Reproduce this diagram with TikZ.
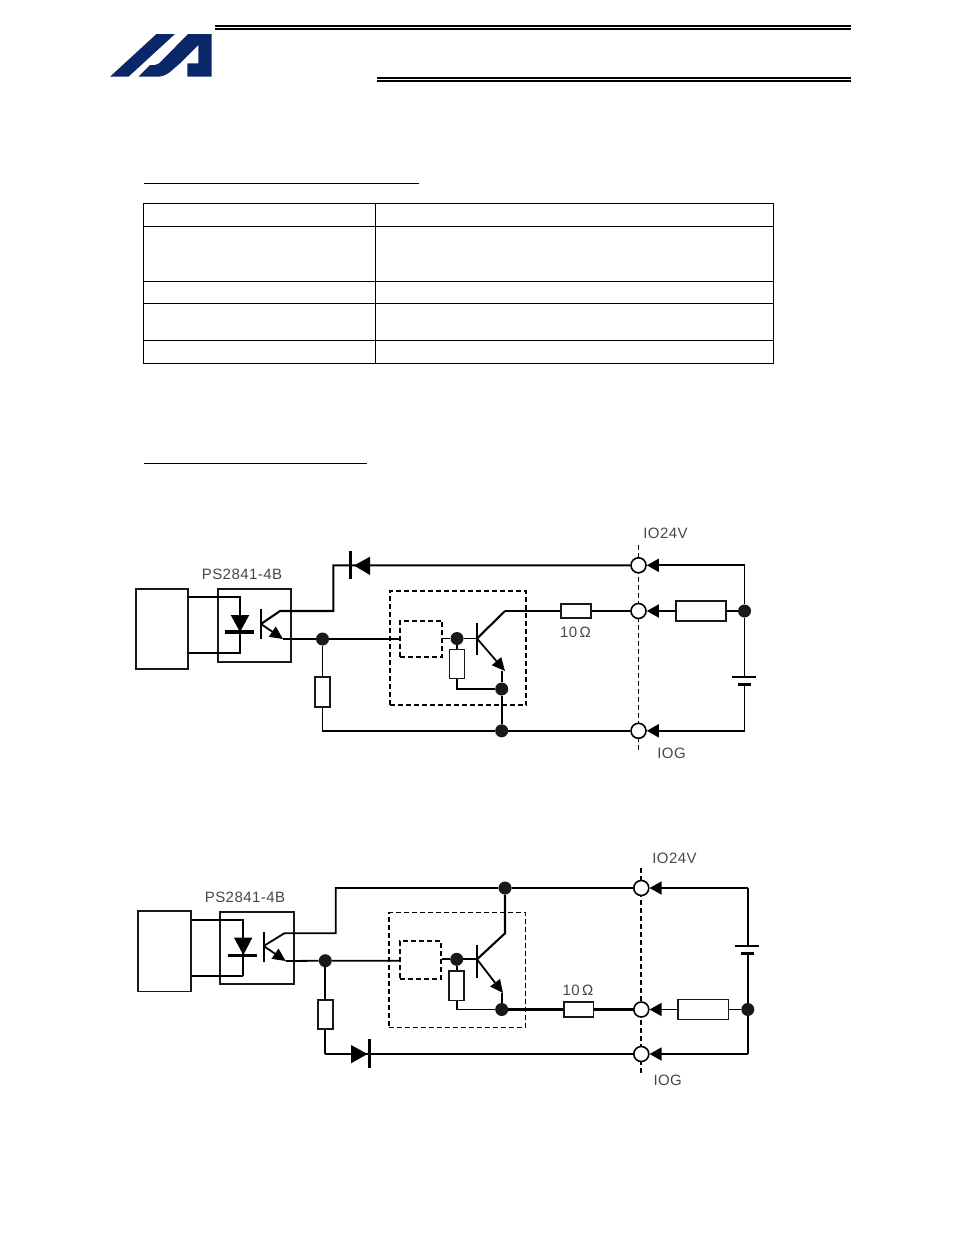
\documentclass[tikz,border=0pt]{standalone}
\usepackage{fontspec}
\setmainfont{Liberation Sans}
\usetikzlibrary{arrows.meta}

\begin{document}
\begin{tikzpicture}[
    x=1pt, y=-1pt,
    wire/.style={line width=1.8pt, black},
    heavy/.style={line width=2.1pt, black},
    boxed/.style={draw=black!90, line width=1.7pt, rectangle, inner sep=0pt},
    dashbox/.style={draw=black, line width=1.7pt, dash pattern=on 5pt off 3pt, rectangle, inner sep=0pt},
    res/.style={draw=black!90, line width=1.7pt, fill=white, rectangle, inner sep=0pt},
    junc/.style={circle, fill=black!90, inner sep=0pt, minimum size=13pt},
    term/.style={circle, draw=black, line width=1.6pt, fill=white, inner sep=0pt, minimum size=15pt},
    plate/.style={line width=2.8pt, black},
    lab/.style={text=black!72, font=\fontsize{15}{17}\selectfont\addfontfeatures{LetterSpace=3}, inner sep=0pt},
    feed/.style={wire, -{Triangle[length=12pt,width=13pt]}},
    emit/.style={wire, -{Triangle[length=13pt,width=12pt]}},
    rule/.style={line width=1pt, black}
]
    \useasboundingbox (0,0) rectangle (954,1235);

    % header
    \fill [fill={rgb,255:red,10;green,40;blue,105}] (110,76.7) -- (156.5,34) -- (175,34) -- (128.5,76.7) -- cycle;
    \fill [fill={rgb,255:red,10;green,40;blue,105}] (138.3,76.7) -- (150,65) -- (155,65) .. controls (158,65) and (160,62.5) .. (162,60.5) -- (188,34) -- (211.5,34) -- (211.5,76.7) -- (187.3,76.7) -- (187.3,63.3) -- (198.3,63.3) -- (198.3,45) -- (180,63.3) -- (170,72) .. controls (166,75) and (162,76.7) .. (158,76.7) -- cycle;
    \draw [line width=2.3pt] (215,25.8) -- (851,25.8);
    \draw [line width=1.7pt] (215,29.2) -- (851,29.2);
    \draw [line width=2pt] (377,78) -- (851,78);
    \draw [line width=1.7pt] (377,80.9) -- (851,80.9);

    % headings and table
    \draw [rule] (144,183.3) -- (419,183.3);
    \draw [rule] (144,463.5) -- (367,463.5);
    \draw [rule] (143.5,203.3) rectangle (773.5,363.3);
    \draw [rule] (375.7,203.3) -- (375.7,363.3);
    \foreach \rowy in {226.3,281.7,303.3,340.3}
        \draw [rule] (143.5,\rowy) -- (773.5,\rowy);

    % first circuit
    \node [boxed, minimum width=52.5pt, minimum height=80pt] (hostA) at (162,629) {};
    \node [boxed, minimum width=73pt, minimum height=72.5pt] (optoA) at (254.2,625.5) {};
    \node [lab] (partA) at (242,574.5) {PS2841-4B};
    \node [dashbox, minimum width=136.5pt, minimum height=114pt] (ampA) at (458,648) {};
    \node [dashbox, minimum width=42pt, minimum height=36.5pt] (ctlA) at (421,639) {};
    \draw [dashbox] (638.5,545) -- (638.5,750);

    \node [term] (t1A) at (638.5,565.3) {};
    \node [term] (t2A) at (638.5,611) {};
    \node [term] (t3A) at (638.5,730.8) {};
    \node [lab] (vccA) at (665.5,533.5) {IO24V};
    \node [lab] (gndA) at (671.5,753) {IOG};

    \node [junc] (j1A) at (322.5,639) {};
    \node [junc] (j2A) at (457,638.5) {};
    \node [junc] (j3A) at (501.7,689) {};
    \node [junc] (j4A) at (501.7,730.8) {};
    \node [junc] (j5A) at (744.5,611) {};

    \node [res, minimum width=15pt, minimum height=30pt] (r1A) at (322.5,691.7) {};
    \node [res, minimum width=15pt, minimum height=29pt] (r2A) at (457,664) {};
    \node [res, minimum width=30pt, minimum height=14pt] (r3A) at (576,611) {};
    \node [res, minimum width=50pt, minimum height=19.5pt] (r4A) at (700.7,611) {};
    \node [lab] (ohmA) at (575.5,632.7) {10\,Ω};

    \coordinate (ledtA) at (240,597.3);
    \coordinate (ledbA) at (240,653.3);
    \coordinate (colA) at (280,611);
    \coordinate (bendA) at (333.3,565.3);
    \coordinate (baseA) at (261,624);
    \coordinate (emA) at (283,639);
    \coordinate (qbA) at (477,638.5);
    \coordinate (qcA) at (505,611);
    \coordinate (qeA) at (505,671);
    \coordinate (qfA) at (501.7,671);
    \coordinate (c1A) at (744.5,565.3);
    \coordinate (c3A) at (744.5,730.8);
    \coordinate (plusA) at (744.5,676.7);
    \coordinate (minusA) at (744.5,684.3);

    % first circuit: opto-coupler and diode
    \draw [heavy] (hostA.east |- ledtA) -- (ledtA) -- (ledbA) -- (hostA.east |- ledbA);
    \fill (230.7,615) -- (249.3,615) -- (240,632) -- cycle;
    \draw [plate, line width=3.4pt] (225,632) -- (254.3,632);
    \draw [plate, line width=2.2pt] (261,609) -- (261,639.3);
    \draw [heavy] (baseA) -- (colA) -| (bendA) -- (t1A);
    \fill (370,556.7) -- (354,565.5) -- (370,575) -- cycle;
    \draw [plate] (350.3,550.7) -- (350.3,579.3);
    \draw [emit] (baseA) -- (emA);
    \draw [wire] (emA) -- (j1A) -- (ctlA.west |- j1A);
    \draw [wire] (j1A) -- (r1A) -- (r1A |- j4A) -- (j4A) -- (t3A);
    % first circuit: transistor stage
    \draw [wire] (ctlA.east |- j2A) -- (j2A) -- (qbA);
    \draw [plate, line width=2.2pt] (477,622.7) -- (477,655);
    \draw [heavy] (qbA) -- (qcA);
    \draw [wire] (qcA) -- (r3A) -- (t2A);
    \draw [emit] (qbA) -- (qeA);
    \draw [wire] (j2A) -- (r2A) -- (r2A |- j3A) -- (j3A);
    \draw [wire] (qfA) -- (j3A);
    \draw [heavy] (j3A) -- (j4A);
    % first circuit: supply side
    \draw [feed] (c1A) -- (t1A);
    \draw [feed] (r4A) -- (t2A);
    \draw [feed] (c3A) -- (t3A);
    \draw [wire] (j5A) -- (r4A);
    \draw [wire] (c1A) -- (j5A) -- (plusA);
    \draw [wire] (minusA) -- (c3A);
    \draw [wire] (731.7,676.7) -- (755.7,676.7);
    \draw [plate] (738.3,684.3) -- (750.7,684.3);

    % second circuit
    \node [boxed, minimum width=53pt, minimum height=80.5pt] (hostB) at (164.3,951.3) {};
    \node [boxed, minimum width=73.5pt, minimum height=72pt] (optoB) at (257,947.7) {};
    \node [lab] (partB) at (245,897.7) {PS2841-4B};
    \node [dashbox, minimum width=136.5pt, minimum height=115pt] (ampB) at (457.3,970) {};
    \node [dashbox, minimum width=41pt, minimum height=38pt] (ctlB) at (420.5,960.3) {};
    \draw [dashbox] (641,867.7) -- (641,1073.3);

    \node [term] (t1B) at (641.3,888) {};
    \node [term] (t2B) at (641.3,1009.5) {};
    \node [term] (t3B) at (641.3,1054) {};
    \node [lab] (vccB) at (674.5,858.3) {IO24V};
    \node [lab] (gndB) at (667.7,1080.7) {IOG};

    \node [junc] (j1B) at (325.3,960.7) {};
    \node [junc] (j2B) at (456.7,959.3) {};
    \node [junc] (j3B) at (501.7,1009.5) {};
    \node [junc] (j4B) at (505,888) {};
    \node [junc] (j5B) at (747.8,1009.5) {};

    \node [res, minimum width=15pt, minimum height=29pt] (r1B) at (325.3,1014.2) {};
    \node [res, minimum width=15pt, minimum height=29.5pt] (r2B) at (456.7,985.8) {};
    \node [res, minimum width=29.5pt, minimum height=15pt] (r3B) at (578.7,1009.5) {};
    \node [res, minimum width=50.5pt, minimum height=20pt] (r4B) at (703.3,1009.5) {};
    \node [lab] (ohmB) at (578,990.7) {10\,Ω};

    \coordinate (ledtB) at (243.3,920);
    \coordinate (ledbB) at (243.3,975.7);
    \coordinate (colB) at (284.3,933.3);
    \coordinate (bendB) at (335.7,888);
    \coordinate (baseB) at (263.7,946);
    \coordinate (emB) at (285.7,961);
    \coordinate (qbB) at (477,959.3);
    \coordinate (qcB) at (505,933.3);
    \coordinate (qeB) at (503,993);
    \coordinate (qfB) at (501.7,993);
    \coordinate (c1B) at (747.8,888);
    \coordinate (c3B) at (747.8,1054);
    \coordinate (plusB) at (747.8,945.7);
    \coordinate (minusB) at (747.8,953.7);
    \coordinate (lowB) at (325.3,1054);

    % second circuit: opto-coupler and diode
    \draw [heavy] (hostB.east |- ledtB) -- (ledtB) -- (ledbB);
    \draw [wire] (ledbB) -- (hostB.east |- ledbB);
    \fill (234,937.7) -- (252.3,937.7) -- (243.3,955) -- cycle;
    \draw [plate, line width=3.4pt] (228.3,955.7) -- (257.3,955.7);
    \draw [plate, line width=2.2pt] (263.7,931.7) -- (263.7,961.7);
    \draw [wire] (baseB) -- (colB) -| (bendB) -- (j4B) -- (t1B);
    \draw [emit] (baseB) -- (emB);
    \draw [wire] (emB) -- (j1B) -- (ctlB.west |- j1B);
    \draw [wire] (j1B) -- (r1B) -- (r1B |- lowB) -- (lowB);
    \draw [heavy] (lowB) -- (t3B);
    \fill (351,1045) -- (367.5,1054) -- (351,1063.3) -- cycle;
    \draw [plate] (369.3,1039.3) -- (369.3,1068.3);
    % second circuit: transistor stage
    \draw [wire] (ctlB.east |- j2B) -- (j2B) -- (qbB);
    \draw [plate, line width=2.2pt] (477,944.7) -- (477,977.7);
    \draw [heavy] (j4B) -- (qcB) -- (qbB);
    \draw [emit] (qbB) -- (qeB);
    \draw [wire] (j2B) -- (r2B) -- (r2B |- j3B) -- (j3B);
    \draw [wire] (qfB) -- (j3B);
    \draw [heavy] (j3B) -- (r3B) -- (t2B);
    % second circuit: supply side
    \draw [feed] (c1B) -- (t1B);
    \draw [feed] (r4B) -- (t2B);
    \draw [feed] (c3B) -- (t3B);
    \draw [wire] (j5B) -- (r4B);
    \draw [wire] (c1B) -- (plusB);
    \draw [wire] (minusB) -- (j5B) -- (c3B);
    \draw [wire] (735,945.7) -- (759,945.7);
    \draw [plate] (741,953.7) -- (753.7,953.7);
\end{tikzpicture}
\end{document}
